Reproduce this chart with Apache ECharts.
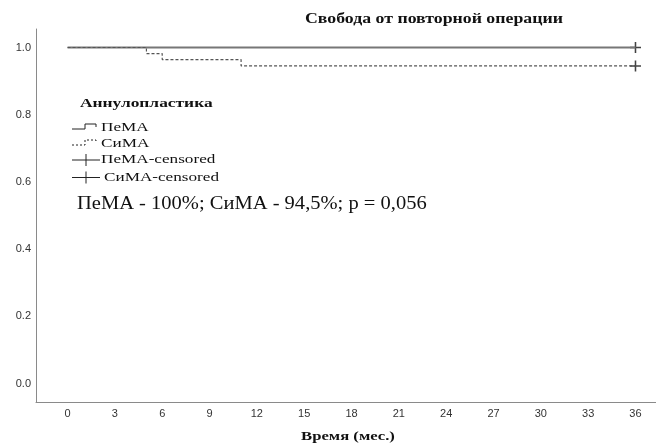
<!DOCTYPE html>
<html>
<head>
<meta charset="utf-8">
<script src="https://cdn.jsdelivr.net/npm/echarts@6/dist/echarts.min.js"></script>
<style>html,body{margin:0;padding:0;background:#fff;}#c{width:656px;height:447px;}</style>
</head>
<body>
<div id="c"></div>
<script>
// Data
const xTicks = [0, 3, 6, 9, 12, 15, 18, 21, 24, 27, 30, 33, 36];
const yTicks = [0, 0.2, 0.4, 0.6, 0.8, 1.0];
const pemaTimes = [0, 36];
const pemaSurv = [1.0, 1.0];
const simaTimes = [0, 5, 6, 11, 36];
const simaSurv = [1.0, 0.982, 0.964, 0.945, 0.945];
const censorTimes = [36, 36];
const censorSurv = [1.0, 0.945];
const legendTitle = 'Аннулопластика';
const legendNames = ['ПеМА', 'СиМА', 'ПеМА-censored', 'СиМА-censored'];
const chartTitle = 'Свобода от повторной операции';
const xName = 'Время (мес.)';
const note = 'ПеМА - 100%; СиМА - 94,5%; р = 0,056';

const pema = pemaTimes.map((t, i) => [t, pemaSurv[i]]);
const sima = simaTimes.map((t, i) => [t, simaSurv[i]]);
const cens = censorTimes.map((t, i) => [t, censorSurv[i]]);

const serif = '"Liberation Serif", "DejaVu Serif", serif';
const sans = '"Liberation Sans", Arial, sans-serif';
const plus = 'path://M4.3,0h1.4v4.3h4.3v1.4h-4.3v4.3h-1.4v-4.3h-4.3v-1.4h4.3z';

const chart = echarts.init(document.getElementById('c'));
const legText = (txt, x, y) => ({ type: 'text', x: x, y: y, scaleX: 1.32,
  style: { text: txt, font: '13px ' + serif, fill: '#111', verticalAlign: 'middle' } });
chart.setOption({
  animation: false,
  backgroundColor: '#fff',
  grid: { left: 36, right: 0, top: 29, bottom: 45, containLabel: false },
  xAxis: {
    type: 'value', min: -2, max: 37.3,
    axisLine: { show: true, onZero: false, lineStyle: { color: '#8a8a8a', width: 1 } },
    axisTick: { show: false },
    splitLine: { show: false },
    axisLabel: { customValues: xTicks, color: '#333', fontFamily: sans, fontSize: 11, margin: 6 }
  },
  yAxis: {
    type: 'value', min: -0.055, max: 1.055,
    axisLine: { show: true, onZero: false, lineStyle: { color: '#8a8a8a', width: 1 } },
    axisTick: { show: false },
    splitLine: { show: false },
    axisLabel: { customValues: yTicks, color: '#333', fontFamily: sans, fontSize: 11, margin: 5,
      formatter: v => v.toFixed(1) }
  },
  series: [
    { name: legendNames[0], type: 'line', step: 'end', data: pema, showSymbol: false,
      lineStyle: { color: '#777', width: 2 } },
    { name: legendNames[1], type: 'line', step: 'end', data: sima, showSymbol: false,
      lineStyle: { color: '#555', width: 1.2, type: [3, 2] } },
    { name: 'censored', type: 'scatter', data: cens, symbol: plus, symbolSize: 11,
      itemStyle: { color: '#111' } }
  ],
  graphic: [
    { type: 'text', x: 305, y: 19, scaleX: 1.27, style: { text: chartTitle, font: 'bold 14px ' + serif, fill: '#111', verticalAlign: 'middle' } },
    { type: 'text', x: 348, y: 437, scaleX: 1.28, style: { text: xName, font: 'bold 13px ' + serif, fill: '#111', align: 'center', verticalAlign: 'middle' } },
    { type: 'text', x: 80, y: 104, scaleX: 1.45, style: { text: legendTitle, font: 'bold 12px ' + serif, fill: '#111', verticalAlign: 'middle' } },
    { type: 'polyline', shape: { points: [[72, 129], [85, 129], [85, 124], [96, 124], [96, 127]] }, style: { stroke: '#222', lineWidth: 1, fill: null } },
    { type: 'polyline', shape: { points: [[72, 145], [85, 145], [85, 140], [96, 140], [96, 143]] }, style: { stroke: '#222', lineWidth: 1, fill: null, lineDash: [2, 2] } },
    { type: 'line', shape: { x1: 72, y1: 160, x2: 100, y2: 160 }, style: { stroke: '#222', lineWidth: 1 } },
    { type: 'line', shape: { x1: 86, y1: 154, x2: 86, y2: 166 }, style: { stroke: '#222', lineWidth: 1 } },
    { type: 'line', shape: { x1: 72, y1: 177.5, x2: 100, y2: 177.5 }, style: { stroke: '#222', lineWidth: 1 } },
    { type: 'line', shape: { x1: 86, y1: 171.5, x2: 86, y2: 183.5 }, style: { stroke: '#222', lineWidth: 1 } },
    legText(legendNames[0], 101, 128),
    legText(legendNames[1], 101, 144),
    legText(legendNames[2], 101, 160),
    legText(legendNames[3], 104, 178),
    { type: 'text', x: 77, y: 204, scaleX: 1.14, style: { text: note, font: '18px ' + serif, fill: '#111', verticalAlign: 'middle' } }
  ]
});
</script>
</body>
</html>
